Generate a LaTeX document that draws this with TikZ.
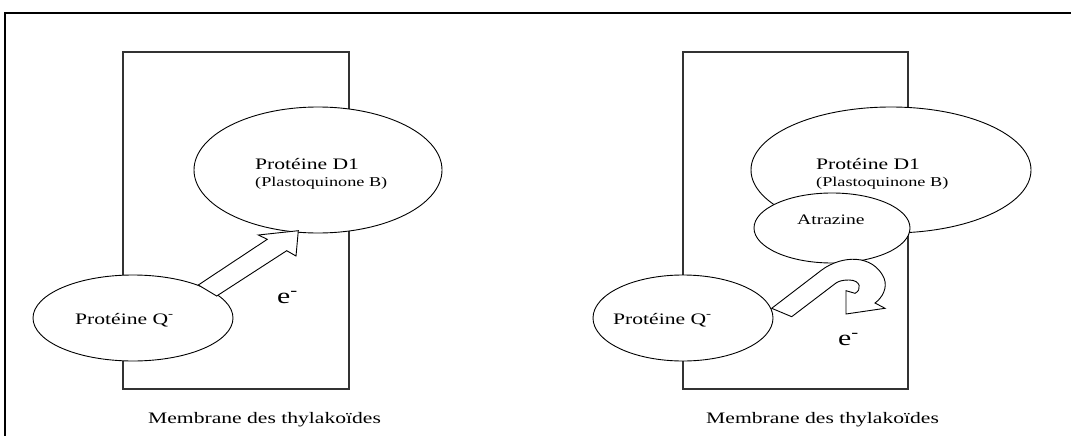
\documentclass[tikz,border=0pt]{standalone}
\usepackage{fontspec}
\setmainfont{Liberation Serif}[FakeStretch=1.35]
\usetikzlibrary{shapes.geometric}
\begin{document}
\begin{tikzpicture}[x=1pt,y=-1pt,
  memb/.style={draw=black!80, line width=1.3pt},
  blob/.style={ellipse, draw, fill=white, line width=0.9pt, inner sep=0pt},
  blockarrow/.style={draw, fill=white, line width=0.9pt, line join=miter},
  lbl/.style={inner sep=0pt, anchor=base west},
  big/.style={font=\fontsize{16}{19}\selectfont},
  small/.style={font=\fontsize{13.5}{16}\selectfont},
  elec/.style={font=\fontsize{22}{26}\selectfont},
]
\useasboundingbox (0,0) rectangle (1071,436);
\clip (0,0) rectangle (1071,436);
\draw[line width=2.6pt] (5,440) -- (5,13) -- (1080,13);
% membranes
\draw[memb] (123,52) rectangle (349,389);
\draw[memb] (683,52) rectangle (908,389);
% left panel
\node[blob, minimum width=248pt, minimum height=126pt] (d1L) at (318,170) {};
\node[blob, minimum width=200pt, minimum height=86pt] (qL) at (133,318) {};
\draw[blockarrow] (198.3,285) -- (267.3,239.3) -- (258.3,235) -- (298.3,230.7)
  -- (296,256) -- (286.7,250.7) -- (216.7,296) -- cycle;
\node[lbl, big] (tD1L) at (255,169) {Protéine D1};
\node[lbl, small] (tPlL) at (255,186) {(Plastoquinone B)};
\node[lbl, big] (tQL) at (75,324) {Protéine Q\textsuperscript{-}};
\node[lbl, elec] (eL) at (277,303) {e\textsuperscript{-}};
\node[lbl, big] (mL) at (148,423) {Membrane des thylakoïdes};
% right panel
\node[blob, minimum width=280pt, minimum height=126pt] (d1R) at (891,170) {};
\node[blob, minimum width=156pt, minimum height=70pt] (atz) at (832,228) {};
\node[blob, minimum width=180pt, minimum height=86pt] (qR) at (683,318) {};
\draw[blockarrow] (771.7,308.3) -- (821.7,270)
  .. controls (842,255) and (873,254) .. (884,278)
  .. controls (888,288) and (882,298) .. (875,303)
  -- (885,308.3) -- (846,314) -- (846,290.7) -- (855,293.3)
  .. controls (862,290) and (861,280) .. (849,280)
  .. controls (843,280) and (839,281) .. (836,283)
  -- (791.7,316.7) -- cycle;
\node[lbl, big] (tD1R) at (816,169) {Protéine D1};
\node[lbl, small] (tPlR) at (816,186) {(Plastoquinone B)};
\node[lbl, font=\fontsize{14.5}{17}\selectfont] (tAt) at (797,224) {Atrazine};
\node[lbl, big] (tQR) at (613,324) {Protéine Q\textsuperscript{-}};
\node[lbl, elec] (eR) at (838,345) {e\textsuperscript{-}};
\node[lbl, big] (mR) at (706,423) {Membrane des thylakoïdes};
\end{tikzpicture}
\end{document}
